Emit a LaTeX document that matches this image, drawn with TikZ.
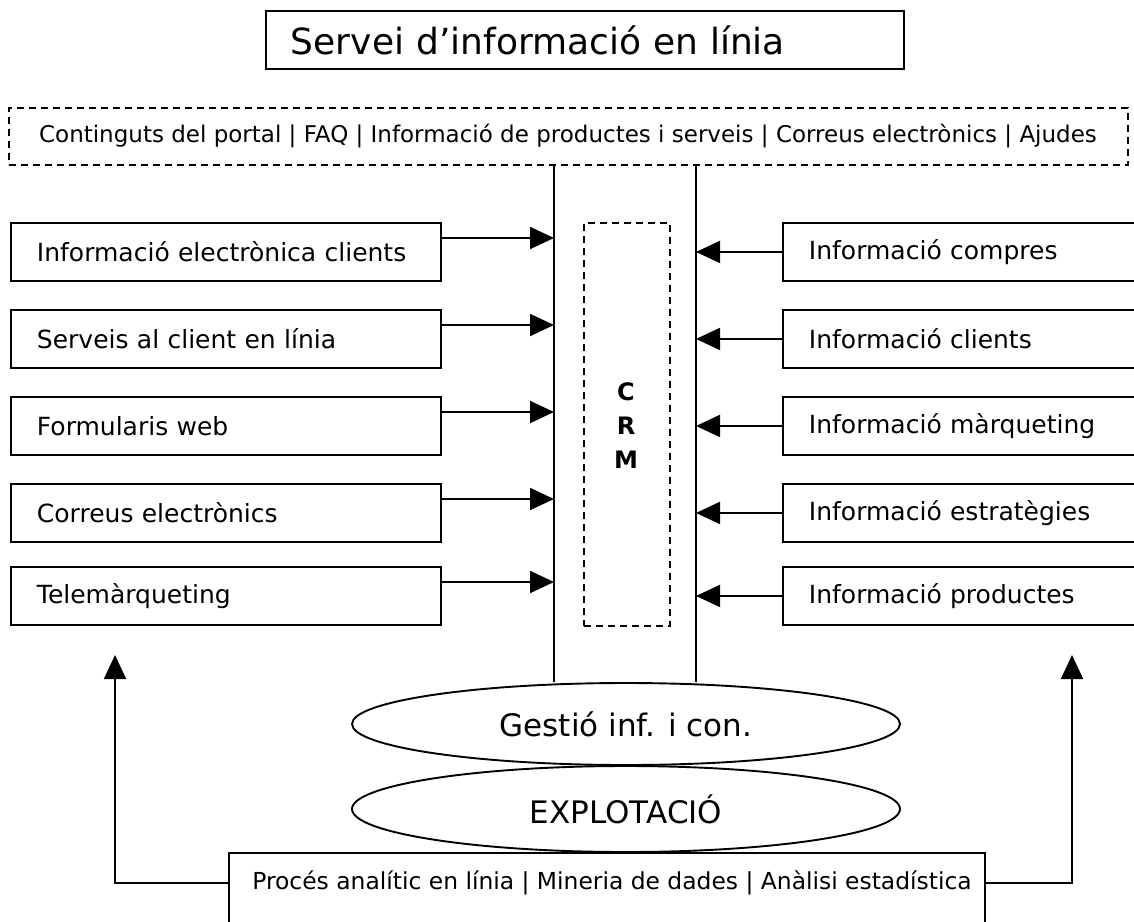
\documentclass[tikz,border=0pt]{standalone}
\usepackage{fontspec}
\setmainfont{DejaVu Sans}
\usetikzlibrary{arrows.meta,shapes.geometric,calc}
\tikzset{
  ln/.style={line width=1.9pt,draw=black},
  box/.style={ln,rectangle,inner ysep=0pt,inner xsep=26pt,minimum height=58pt,align=left,anchor=north west,font=\fontsize{25}{30}\selectfont},
  dbox/.style={line width=1.9pt,draw=black,dash pattern=on 7pt off 5pt,rectangle,inner sep=0pt,anchor=north west},
  oval/.style={ln,ellipse,inner sep=0pt,font=\fontsize{31}{36}\selectfont},
  arr/.style={ln,-{Triangle[length=24pt,width=22pt]}},
  small/.style={font=\fontsize{23}{26}\selectfont,inner sep=0pt}
}
\begin{document}
\begin{tikzpicture}[x=1pt,y=-1pt]
\clip (0,0) rectangle (1134,921);
\fill[white] (0,0) rectangle (1134,921);
% title
\node[box,inner xsep=25pt,minimum height=58pt,text width=588pt,font=\fontsize{36}{40}\selectfont] (T) at (265,10) {Servei d’informació en línia};
% dashed top
\node[dbox,minimum width=1119pt,minimum height=57pt] (D) at (8,107) {};
\node[small] (Dt) at (568,136) {Continguts del portal | FAQ | Informació de productes i serveis | Correus electrònics | Ajudes};
% vertical line positions
\coordinate (vL) at (554,0);
\coordinate (vR) at (696,0);
% CRM
\node[dbox,minimum width=86pt,minimum height=403pt] (C) at (583,222) {};
\node[align=center,inner sep=0pt,font=\fontsize{24}{34}\selectfont\bfseries] (Ct) at (626,426) {C\\R\\M};
% left boxes
\node[box,text width=378pt] (L1) at (10,222) {Informació electrònica clients};
\node[box,text width=378pt] (L2) at (10,309) {Serveis al client en línia};
\node[box,text width=378pt] (L3) at (10,396) {Formularis web};
\node[box,text width=378pt] (L4) at (10,483) {Correus electrònics};
\node[box,text width=378pt] (L5) at (10,566) {Telemàrqueting};
% right boxes
\node[box,text width=316pt] (R1) at (782,222) {Informació compres};
\node[box,text width=316pt] (R2) at (782,309) {Informació clients};
\node[box,text width=316pt] (R3) at (782,396) {Informació màrqueting};
\node[box,text width=316pt] (R4) at (782,483) {Informació estratègies};
\node[box,text width=316pt] (R5) at (782,566) {Informació productes};
% ellipses
\node[oval,minimum width=548pt,minimum height=82pt] (E1) at (626,724) {Gestió inf. i con.};
\node[oval,minimum width=548pt,minimum height=86pt] (E2) at (626,809) {EXPLOTACIÓ};
% bottom box
\node[ln,rectangle,inner sep=0pt,anchor=north west,minimum width=756pt,minimum height=110pt] (B) at (228,852) {};
\node[small,font=\fontsize{23.4}{26}\selectfont] (Bt) at (612,883) {Procés analític en línia | Mineria de dades | Anàlisi estadística};
% vertical lines
\draw[ln] (D.south -| vL) -- (E1.north -| vL);
\draw[ln] (D.south -| vR) -- (E1.north -| vR);
% arrows into the CRM column
\foreach \i in {1,...,5}{
  \coordinate (aL\i) at ([yshift=-16pt]L\i.north east);
  \draw[arr] (aL\i) -- (aL\i -| vL);
  \draw[arr] (R\i.west) -- (R\i.west -| vR);
}
% up arrows
\coordinate (upL) at (115,655);
\coordinate (upR) at (1072,655);
\draw[arr] (B.west |- Bt) -| (upL);
\draw[arr] (B.east |- Bt) -| (upR);
\end{tikzpicture}
\end{document}
